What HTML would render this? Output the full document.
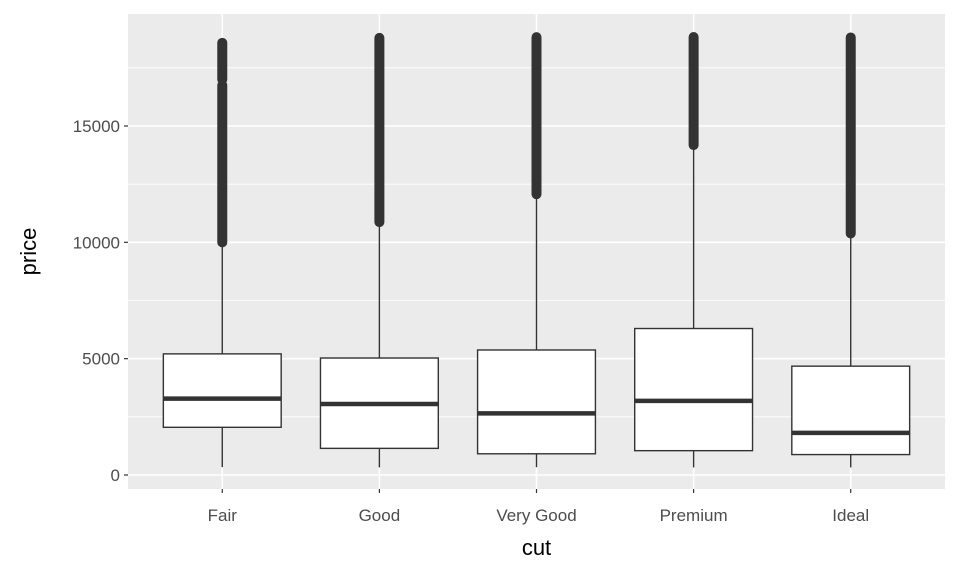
<!DOCTYPE html>
<html><head><meta charset="utf-8"><style>
body{margin:0;background:#fff}
svg text{font-family:"Liberation Sans",sans-serif}
</style></head><body>
<svg id="c" width="960" height="576" xmlns="http://www.w3.org/2000/svg"></svg>
<script>
const categories=["Fair","Good","Very Good","Premium","Ideal"];
const whiskerLow=[337,327,336,326,326];
const q1=[2050,1145,912,1046,878];
const median=[3282,3050,2648,3185,1810];
const q3=[5206,5028,5373,6296,4678];
const whiskerHigh=[9836,10853,12061,14173,10367];
const outlierSegStart=[[10000,17000],[10870],[12070],[14180],[10380]];
const outlierSegEnd=[[16750,18574],[18788],[18818],[18823],[18806]];
const yTicks=[0,5000,10000,15000];
const yMinor=[2500,7500,12500,17500];

const NS="http://www.w3.org/2000/svg";
const svg=document.getElementById('c');
const P={l:128,r:945,t:14,b:489};
const y=v=>475-v*0.023267;
const step=(P.r-P.l)/(categories.length-1+1.2);
const x=i=>P.l+step*(i+0.6);
function el(t,a,p){const e=document.createElementNS(NS,t);for(const k in a)e.setAttribute(k,a[k]);(p||svg).appendChild(e);return e;}

const bg=el('rect',{x:P.l,y:P.t,width:P.r-P.l,height:P.b-P.t,fill:'#ebebeb'});


yMinor.forEach(v=>{const g=el('line',{x1:P.l,x2:P.r,y1:y(v),y2:y(v),stroke:'#fff','stroke-width':0.8});

});
yTicks.forEach(v=>{const g=el('line',{x1:P.l,x2:P.r,y1:y(v),y2:y(v),stroke:'#fff','stroke-width':1.6});


const tk=el('line',{x1:P.l-4,x2:P.l,y1:y(v),y2:y(v),stroke:'#333','stroke-width':1.2});


const t=el('text',{x:P.l-8,y:y(v)+6,'text-anchor':'end','font-size':17,fill:'#4d4d4d'});t.textContent=v;

});
categories.forEach((c,i)=>{const g=el('line',{x1:x(i),x2:x(i),y1:P.t,y2:P.b,stroke:'#fff','stroke-width':1.6});

});

categories.forEach((c,i)=>{
 const g=el('g',{});
 
 
 const cx=x(i),w=step*0.75;
 el('line',{x1:cx,x2:cx,y1:y(whiskerLow[i]),y2:y(q1[i]),stroke:'#333','stroke-width':1.4},g);
 el('line',{x1:cx,x2:cx,y1:y(q3[i]),y2:y(whiskerHigh[i]),stroke:'#333','stroke-width':1.4},g);
 el('rect',{x:cx-w/2,y:y(q3[i]),width:w,height:y(q1[i])-y(q3[i]),fill:'#fff',stroke:'#333','stroke-width':1.4},g);
 el('line',{x1:cx-w/2,x2:cx+w/2,y1:y(median[i]),y2:y(median[i]),stroke:'#333','stroke-width':4.5},g);
 outlierSegStart[i].forEach((s,j)=>{
  const e=outlierSegEnd[i][j];
  const o=el('line',{x1:cx,x2:cx,y1:y(s),y2:y(e),stroke:'#333','stroke-width':10,'stroke-linecap':'round'},g);
  
  
 });
 const tk=el('line',{x1:cx,x2:cx,y1:P.b,y2:P.b+4,stroke:'#333','stroke-width':1.2});
 
 
 const t=el('text',{x:cx,y:521,'text-anchor':'middle','font-size':17,fill:'#4d4d4d'});t.textContent=c;
 
 
});
const xt=el('text',{x:(P.l+P.r)/2,y:555,'text-anchor':'middle','font-size':22,fill:'#000'});xt.textContent='cut';


const yt=el('text',{x:0,y:0,'text-anchor':'middle','font-size':22,fill:'#000',transform:'translate(36,'+((P.t+P.b)/2)+') rotate(-90)'});yt.textContent='price';


</script>
</body></html>
